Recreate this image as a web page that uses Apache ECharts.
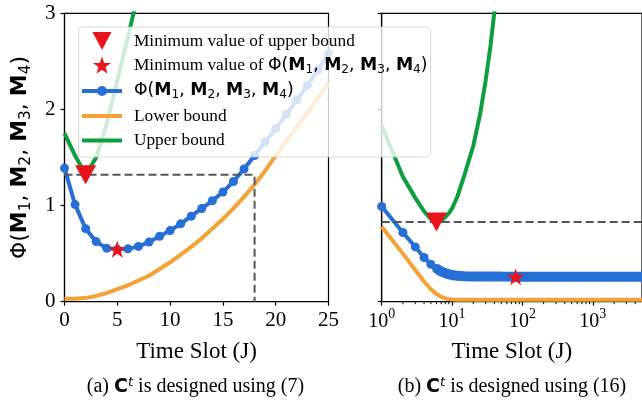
<!DOCTYPE html>
<html>
<head>
<meta charset="UTF-8">
<title>Phi vs time slot</title>
<script src="https://cdn.jsdelivr.net/npm/echarts@6/dist/echarts.min.js"></script>
</head>
<body style="margin:0;background:#ffffff">
<div id="main" style="width:642px;height:400px"></div>
<script>
// ---- data ----
// (a) left panel, linear time slot axis
var leftJ = [0,1,2,3,4,5,6,7,8,9,10,11,12,13,14,15,16,17,18,19,20,21,22,23,24,25];
var leftPhi = [1.39,1.01,0.76,0.625,0.555,0.545,0.55,0.575,0.62,0.68,0.74,0.81,0.89,0.97,1.05,1.14,1.25,1.38,1.52,1.66,1.80,1.95,2.10,2.25,2.41,2.58];
var leftLower = [0.03,0.03,0.04,0.06,0.09,0.13,0.17,0.22,0.27,0.34,0.41,0.49,0.57,0.66,0.76,0.86,0.97,1.09,1.22,1.36,1.52,1.67,1.82,1.97,2.12,2.27];
var leftUpperJ = [0,1,2,3,4,5,6,7];
var leftUpper = [1.75,1.52,1.32,1.5,1.85,2.3,2.75,3.22];
var leftMinUpper = [2, 1.32];   // triangle
var leftMinPhi = [5, 0.545];    // star
var leftCutJ = 18;              // dashed drop line

// (b) right panel, log time slot axis
var rightPhiJ = [1,2,3,4,5,6,7,8,9,10,11,12,13,14,15,20,30,50,100,200,500,1000,2000,5000];
var rightPhi = [0.99,0.72,0.57,0.46,0.39,0.345,0.315,0.297,0.285,0.278,0.273,0.27,0.268,0.266,0.265,0.263,0.262,0.261,0.26,0.26,0.26,0.26,0.26,0.26];
var rightLowerJ = [1,2,3,4,5,6,7,8,9,10,12,15,20,5000];
var rightLower = [0.78,0.5,0.33,0.21,0.13,0.08,0.05,0.035,0.028,0.024,0.021,0.02,0.02,0.02];
var rightUpperJ = [1,2,3,4,5,6,7,8,9,10,12,15,20,25,30,35,40,45];
var rightUpper = [1.83,1.3,1.08,0.94,0.86,0.83,0.845,0.88,0.92,0.97,1.1,1.32,1.62,1.95,2.3,2.65,3.02,3.4];
var rightMinUpper = [6, 0.83];
var rightMinPhi = [80, 0.26];
var rightMax = 5000;
var minorTicks = [2,3,4,5,6,7,8,9,20,30,40,50,60,70,80,90,200,300,400,500,600,700,800,900,2000,3000,4000];
var yTicks = [0, 1, 2, 3];

// ---- style ----
var SERIF = 'Liberation Serif';
var SANS = 'DejaVu Sans';
var BLUE = '#256fd5';
var ORANGE = '#f4a136';
var GREEN = '#0b9f3e';
var RED = '#e8141b';
var DASH = '#555555';
var STAR = 'path://M100,0 L122.5,69.1 L195.1,69.1 L136.3,111.8 L158.8,180.9 L100,138.2 L41.2,180.9 L63.7,111.8 L4.9,69.1 L77.5,69.1 Z';

function zip(xs, ys) {
  return xs.map(function (x, i) { return [x, ys[i]]; });
}

function phiRich(size) {
  return {
    r: { fontFamily: SANS, fontSize: size, lineHeight: size * 1.2, color: '#000' },
    m: { fontFamily: SANS, fontSize: size, fontWeight: 'bold', lineHeight: size * 1.2, color: '#000' },
    s: { fontFamily: SANS, fontSize: size * 0.7, lineHeight: size * 0.7, verticalAlign: 'bottom', color: '#000' },
    t: { fontFamily: SERIF, fontSize: size, lineHeight: size * 1.2, color: '#000' }
  };
}
var PHI = '{r|Φ(}{m|M}{s|1}{r|, }{m|M}{s|2}{r|, }{m|M}{s|3}{r|, }{m|M}{s|4}{r|)}';

var myChart = echarts.init(document.getElementById('main'), null, { renderer: 'canvas' });

var axisLine = { show: true, lineStyle: { color: '#000', width: 1.2 } };
var tickStyle = { show: true, inside: false, length: 4, lineStyle: { color: '#000', width: 1.2 } };

function lineSeries(grid, data, color, width, extra) {
  var s = {
    type: 'line', xAxisIndex: grid, yAxisIndex: grid, data: data,
    symbol: 'none', lineStyle: { color: color, width: width }, itemStyle: { color: color },
    animation: false, silent: true, clip: true
  };
  for (var k in extra) s[k] = extra[k];
  return s;
}

function markerSeries(grid, point, symbol, size, rotate) {
  return {
    type: 'scatter', xAxisIndex: grid, yAxisIndex: grid, data: [point],
    symbol: symbol, symbolSize: size, symbolRotate: rotate || 0, symbolKeepAspect: false,
    itemStyle: { color: RED, opacity: 1 }, animation: false, silent: true, z: 5
  };
}

var captionStyle = {
  fontFamily: SERIF, fontSize: 20, fontWeight: 'normal', color: '#000', lineHeight: 22,
  rich: {
    b: { fontFamily: SANS, fontWeight: 'bold', fontSize: 19, lineHeight: 22, color: '#000' },
    p: { fontFamily: SANS, fontStyle: 'italic', fontSize: 13, lineHeight: 12, verticalAlign: 'top', color: '#000' }
  }
};

// legend rows (drawn with graphic so it can sit over both panels)
function legendText(y, text, rich) {
  var st = { text: text, fill: '#000', verticalAlign: 'middle', align: 'left' };
  if (rich) { st.rich = phiRich(17.3); } else { st.font = '17.3px "Liberation Serif"'; }
  return { type: 'text', z: 101, x: 134, y: y, style: st };
}

var option = {
  animation: false,
  title: [
    { text: '(a) {b|C}{p|t} is designed using (7)', left: 195.5, top: 376, textAlign: 'center', padding: 0, textStyle: captionStyle },
    { text: '(b) {b|C}{p|t} is designed using (16)', left: 512, top: 376, textAlign: 'center', padding: 0, textStyle: captionStyle }
  ],
  grid: [
    { left: 64.5, top: 13.3, right: 313.5, bottom: 98.3, show: true, borderColor: '#000', borderWidth: 1.2, backgroundColor: 'transparent' },
    { left: 381.7, top: 13.3, right: -3, bottom: 98.3, show: true, borderColor: '#000', borderWidth: 1.2, backgroundColor: 'transparent' }
  ],
  xAxis: [
    {
      gridIndex: 0, type: 'value', min: 0, max: 25, interval: 5,
      axisLine: axisLine, axisTick: tickStyle, splitLine: { show: false },
      axisLabel: { margin: 8, fontFamily: SERIF, fontSize: 21, color: '#000' },
      name: 'Time Slot (J)', nameLocation: 'middle', nameGap: 39,
      nameTextStyle: { fontFamily: SERIF, fontSize: 23, color: '#000' }
    },
    {
      gridIndex: 1, type: 'log', logBase: 10, min: 1, max: rightMax,
      axisLine: axisLine, axisTick: tickStyle, splitLine: { show: false }, minorTick: { show: false },
      axisLabel: {
        margin: 6, color: '#000', showMaxLabel: false,
        formatter: function (v) {
          var e = Math.log10(v);
          if (Math.abs(e - Math.round(e)) > 1e-6) return '';
          return '{b|10}{p|' + Math.round(e) + '}';
        },
        rich: {
          b: { fontFamily: SERIF, fontSize: 20, lineHeight: 28, color: '#000' },
          p: { fontFamily: SERIF, fontSize: 14, lineHeight: 14, verticalAlign: 'top', color: '#000' }
        }
      },
      name: 'Time Slot (J)', nameLocation: 'middle', nameGap: 39,
      nameTextStyle: { fontFamily: SERIF, fontSize: 23, color: '#000' }
    }
  ],
  yAxis: [
    {
      gridIndex: 0, type: 'value', min: yTicks[0], max: yTicks[yTicks.length - 1], interval: 1,
      axisLine: axisLine, axisTick: tickStyle, splitLine: { show: false },
      axisLabel: { margin: 9, fontFamily: SERIF, fontSize: 21, color: '#000' },
      name: PHI, nameLocation: 'middle', nameRotate: 90, nameGap: 31,
      nameTextStyle: { fontFamily: SANS, fontSize: 22, color: '#000', rich: phiRich(22) }
    },
    {
      gridIndex: 1, type: 'value', min: yTicks[0], max: yTicks[yTicks.length - 1], interval: 1,
      axisLine: axisLine, axisTick: tickStyle, splitLine: { show: false },
      axisLabel: { show: false }
    }
  ],
  series: [
    // left panel
    lineSeries(0, zip(leftUpperJ, leftUpper), GREEN, 4, { name: 'Upper bound' }),
    lineSeries(0, zip(leftJ, leftLower), ORANGE, 4, { name: 'Lower bound' }),
    lineSeries(0, zip(leftJ, leftPhi), BLUE, 4, { name: 'Phi', symbol: 'circle', symbolSize: 9, showSymbol: true, showAllSymbol: true }),
    lineSeries(0, [[0, leftMinUpper[1]], [leftCutJ, leftMinUpper[1]], [leftCutJ, 0]], DASH, 2, { lineStyle: { color: DASH, width: 2, type: [8, 4] }, z: 3 }),
    markerSeries(0, leftMinUpper, 'triangle', [21, 19], 180),
    markerSeries(0, leftMinPhi, STAR, [18, 17]),
    // right panel
    lineSeries(1, zip(rightUpperJ, rightUpper), GREEN, 4, { name: 'Upper bound' }),
    lineSeries(1, zip(rightLowerJ, rightLower), ORANGE, 4, { name: 'Lower bound' }),
    lineSeries(1, zip(rightPhiJ.filter(function (j) { return j >= 6; }), rightPhi.filter(function (v, i) { return rightPhiJ[i] >= 6; })), BLUE, 10, { name: 'Phi' }),
    lineSeries(1, zip(rightPhiJ, rightPhi), BLUE, 4, { name: 'Phi', symbol: 'circle', symbolSize: 9, showSymbol: true, showAllSymbol: true }),
    lineSeries(1, [[1, rightMinUpper[1]], [rightMax, rightMinUpper[1]]], DASH, 2, { lineStyle: { color: DASH, width: 2, type: [8, 4] }, z: 3 }),
    markerSeries(1, rightMinUpper, 'triangle', [21, 19], 180),
    markerSeries(1, rightMinPhi, STAR, [18, 17]),
    // minor ticks of the log axis
    {
      type: 'custom', xAxisIndex: 1, yAxisIndex: 1, silent: true, clip: false, animation: false,
      data: minorTicks.map(function (v) { return [v, 0]; }),
      renderItem: function (params, api) {
        var p = api.coord([api.value(0), 0]);
        return { type: 'line', shape: { x1: p[0], y1: p[1], x2: p[0], y2: p[1] + 2.5 }, style: { stroke: '#000', lineWidth: 1 } };
      }
    }
  ],
  graphic: [
    { type: 'rect', z: 100, shape: { x: 78.5, y: 27, width: 352, height: 130, r: 4 }, style: { fill: 'rgba(255,255,255,0.8)', stroke: 'rgba(204,204,204,0.8)', lineWidth: 1 } },
    { type: 'polygon', z: 101, shape: { points: [[92.5, 32], [111.5, 32], [102, 50]] }, style: { fill: RED } },
    { type: 'polygon', z: 101, shape: { points: [[102,56.5],[104.13,63.06],[111.03,63.07],[105.45,67.12],[107.59,73.69],[102,69.63],[96.41,73.69],[98.55,67.12],[92.97,63.07],[99.87,63.06]] }, style: { fill: RED } },
    { type: 'line', z: 101, shape: { x1: 82, y1: 91, x2: 122, y2: 91 }, style: { stroke: BLUE, lineWidth: 4 } },
    { type: 'circle', z: 101, shape: { cx: 102, cy: 91, r: 5 }, style: { fill: BLUE } },
    { type: 'line', z: 101, shape: { x1: 82, y1: 116, x2: 122, y2: 116 }, style: { stroke: ORANGE, lineWidth: 4 } },
    { type: 'line', z: 101, shape: { x1: 82, y1: 140.5, x2: 122, y2: 140.5 }, style: { stroke: GREEN, lineWidth: 4 } },
    legendText(41, 'Minimum value of upper bound', false),
    legendText(65.5, '{t|Minimum value of }' + PHI, true),
    legendText(90.5, PHI, true),
    legendText(116, 'Lower bound', false),
    legendText(140.5, 'Upper bound', false)
  ]
};

myChart.setOption(option);
</script>
</body>
</html>
